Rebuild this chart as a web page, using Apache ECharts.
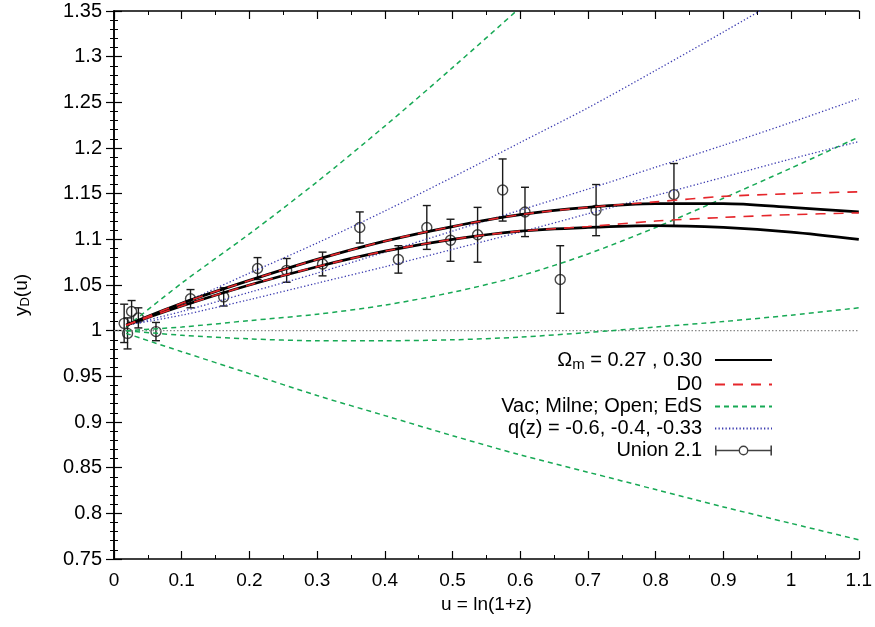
<!DOCTYPE html>
<html>
<head>
    <meta charset="utf-8">
    <title>y_D(u)</title>
    <script src="https://cdn.jsdelivr.net/npm/echarts@6.0.0/dist/echarts.min.js"></script>
</head>
<body style="margin:0;background:#fff;">
    <div id="main" style="width: 875px;height:627px;"></div>
    <script type="text/javascript">
        var uGrid = [0.018, 0.1, 0.2, 0.3, 0.4, 0.5, 0.6, 0.7, 0.8, 0.9, 1.0, 1.1];

        // Omega_m = 0.27 (upper) and 0.30 (lower)
        var om27 = [1.006, 1.030, 1.055, 1.078, 1.098, 1.114, 1.127, 1.135, 1.139, 1.139, 1.135, 1.130];
        var om30 = [1.006, 1.027, 1.050, 1.070, 1.087, 1.100, 1.109, 1.113, 1.115, 1.113, 1.108, 1.100];
        // D0
        var d0a = [1.006, 1.030, 1.055, 1.078, 1.098, 1.114, 1.127, 1.135, 1.141, 1.147, 1.150, 1.152];
        var d0b = [1.006, 1.027, 1.050, 1.070, 1.087, 1.100, 1.109, 1.114, 1.120, 1.124, 1.127, 1.129];
        // Vac; Milne; Open; EdS
        var vac = [1.004, 1.052, 1.106, 1.163, 1.224, 1.288, 1.354, 1.424];
        var milne = [1.000, 1.004, 1.011, 1.018, 1.028, 1.042, 1.060, 1.084, 1.113, 1.145, 1.178, 1.212];
        var open = [1.000, 0.995, 0.991, 0.989, 0.989, 0.990, 0.993, 0.998, 1.004, 1.010, 1.017, 1.025];
        var eds = [0.997, 0.977, 0.953, 0.929, 0.907, 0.885, 0.864, 0.845, 0.826, 0.807, 0.789, 0.771];
        // q(z) = -0.6, -0.4, -0.33
        var q06 = [1.006, 1.030, 1.063, 1.096, 1.131, 1.168, 1.206, 1.244, 1.285, 1.327, 1.370, 1.415];
        var q04 = [1.006, 1.021, 1.042, 1.063, 1.086, 1.109, 1.132, 1.155, 1.179, 1.203, 1.228, 1.254];
        var q033 = [1.006, 1.017, 1.034, 1.052, 1.070, 1.089, 1.108, 1.128, 1.148, 1.168, 1.188, 1.207];

        // Union 2.1 binned points
        var unionU = [0.015, 0.020, 0.026, 0.036, 0.062, 0.113, 0.162, 0.212, 0.255, 0.308, 0.363, 0.420, 0.462, 0.497, 0.537, 0.574, 0.607, 0.659, 0.712, 0.827];
        var unionY = [1.008, 0.997, 1.021, 1.014, 0.999, 1.035, 1.037, 1.068, 1.066, 1.073, 1.113, 1.078, 1.113, 1.099, 1.105, 1.154, 1.130, 1.056, 1.132, 1.149];
        var unionErr = [0.021, 0.017, 0.012, 0.011, 0.010, 0.010, 0.010, 0.012, 0.013, 0.013, 0.017, 0.015, 0.024, 0.023, 0.030, 0.034, 0.027, 0.037, 0.028, 0.034];

        var FONT = 'Liberation Sans, Arial, sans-serif';

        function pairs(ys) {
            var out = [];
            for (var i = 0; i < ys.length; i++) out.push([uGrid[i], ys[i]]);
            return out;
        }

        function curve(name, ys, color, width, dash) {
            return {
                name: name, type: 'line', data: pairs(ys), smooth: 0.3,
                symbol: 'none', silent: true, clip: true,
                itemStyle: { color: color },
                lineStyle: { color: color, width: width, type: dash }
            };
        }

        var errData = [], ptData = [];
        for (var i = 0; i < unionU.length; i++) {
            errData.push([unionU[i], unionY[i], unionY[i] - unionErr[i], unionY[i] + unionErr[i]]);
            ptData.push([unionU[i], unionY[i]]);
        }

        var GREEN = '#17a955', BLUE = '#3b3bb0', RED = '#e5262b';
        var OM = 'Omega';
        var noDot = { opacity: 0 };

        // error bar with circle, drawn in a 57x10 box
        var unionIcon = 'path://M0 0H1.6V10H0Z M55.4 0H57V10H55.4Z M0 4.2H24H24V5.8H0Z M33 4.2H57V5.8H33Z ' +
            'M23.6 5A4.9 4.9 0 1 1 33.4 5A4.9 4.9 0 1 1 23.6 5Z M25 5A3.5 3.5 0 1 0 32 5A3.5 3.5 0 1 0 25 5Z';

        var myChart = echarts.init(document.getElementById('main'), null, { renderer: 'canvas' });

        var option = {
            backgroundColor: '#fff',
            animation: false,
            textStyle: { fontFamily: FONT },
            grid: { left: 114, right: 16, top: 11, bottom: 68 },
            legend: {
                orient: 'vertical', right: 97, top: 345, align: 'right',
                itemWidth: 57, itemHeight: 10, itemGap: 2,
                selectedMode: false,
                textStyle: {
                    fontFamily: FONT, fontSize: 20, color: '#000', padding: [0, 8, 0, 0],
                    rich: {
                        t: { fontFamily: FONT, fontSize: 20, color: '#000' },
                        s: { fontFamily: FONT, fontSize: 15, color: '#000', padding: [10, 0, 0, 0] }
                    }
                },
                formatter: function (name) {
                    if (name === OM) return '{t|Ω}{s|m}{t| = 0.27 , 0.30}';
                    return name;
                },
                data: [
                    { name: OM, itemStyle: noDot },
                    { name: 'D0', itemStyle: noDot },
                    { name: 'Vac; Milne; Open; EdS', itemStyle: noDot },
                    { name: 'q(z) = -0.6, -0.4, -0.33', itemStyle: noDot },
                    { name: 'Union 2.1', icon: unionIcon, itemStyle: { color: '#111', borderWidth: 0 } }
                ]
            },
            xAxis: [{
                type: 'value', min: 0, max: 1.1, interval: 0.1,
                name: 'u = ln(1+z)', nameLocation: 'middle', nameGap: 36,
                nameTextStyle: { fontFamily: FONT, fontSize: 19, color: '#000' },
                axisLine: { lineStyle: { color: '#000', width: 1.5 } },
                axisTick: { inside: true, length: 8, lineStyle: { color: '#000', width: 1.2 } },
                minorTick: { show: true, splitNumber: 2, length: 4, lineStyle: { color: '#000', width: 1 } },
                axisLabel: { fontFamily: FONT, fontSize: 19, color: '#000', margin: 12 },
                splitLine: { show: false }
            }, {
                type: 'value', min: 0, max: 1.1, interval: 0.1, position: 'top',
                axisLine: { lineStyle: { color: '#000', width: 1.5 } },
                axisTick: { inside: true, length: 8, lineStyle: { color: '#000', width: 1.2 } },
                minorTick: { show: true, splitNumber: 2, length: 4, lineStyle: { color: '#000', width: 1 } },
                axisLabel: { show: false },
                splitLine: { show: false }
            }],
            yAxis: [{
                type: 'value', min: 0.75, max: 1.35, interval: 0.05,
                name: '{t|y}{s|D}{t|(u)}', nameLocation: 'middle', nameGap: 82, nameRotate: 90,
                nameTextStyle: {
                    fontFamily: FONT, fontSize: 19, color: '#000', padding: [0, 20, 0, 0],
                    rich: {
                        t: { fontFamily: FONT, fontSize: 19, color: '#000' },
                        s: { fontFamily: FONT, fontSize: 13, color: '#000', padding: [8, 0, 0, 0] }
                    }
                },
                axisLine: { lineStyle: { color: '#000', width: 1.5 } },
                axisTick: { inside: true, length: 8, lineStyle: { color: '#000', width: 1.2 } },
                minorTick: { show: true, splitNumber: 5, length: 4, lineStyle: { color: '#000', width: 1 } },
                axisLabel: { fontFamily: FONT, fontSize: 20, color: '#000', margin: 12 },
                splitLine: { show: false }
            }, {
                type: 'value', min: 0.75, max: 1.35, interval: 0.05, position: 'right',
                axisLine: { lineStyle: { color: '#000', width: 1.5 } },
                axisTick: { inside: true, length: 8, lineStyle: { color: '#000', width: 1.2 } },
                minorTick: { show: true, splitNumber: 5, length: 4, lineStyle: { color: '#000', width: 1 } },
                axisLabel: { show: false },
                splitLine: { show: false }
            }],
            series: [
                {
                    name: 'ref', type: 'line', data: [[0, 1], [1.1, 1]], symbol: 'none', silent: true,
                    lineStyle: { color: '#888', width: 1.2, type: [1.5, 2] }
                },
                curve('Vac; Milne; Open; EdS', vac, GREEN, 1.5, [5, 4]),
                curve('Vac; Milne; Open; EdS', milne, GREEN, 1.5, [5, 4]),
                curve('Vac; Milne; Open; EdS', open, GREEN, 1.5, [5, 4]),
                curve('Vac; Milne; Open; EdS', eds, GREEN, 1.5, [5, 4]),
                curve('q(z) = -0.6, -0.4, -0.33', q06, BLUE, 1.3, [1.3, 2.2]),
                curve('q(z) = -0.6, -0.4, -0.33', q04, BLUE, 1.3, [1.3, 2.2]),
                curve('q(z) = -0.6, -0.4, -0.33', q033, BLUE, 1.3, [1.3, 2.2]),
                curve(OM, om27, '#000', 2.8, 'solid'),
                curve(OM, om30, '#000', 2.8, 'solid'),
                curve('D0', d0a, RED, 1.6, [10, 8]),
                curve('D0', d0b, RED, 1.6, [10, 8]),
                {
                    name: 'errbars', type: 'custom', data: errData, silent: true, clip: true,
                    renderItem: function (params, api) {
                        var lo = api.coord([api.value(0), api.value(2)]);
                        var hi = api.coord([api.value(0), api.value(3)]);
                        var st = { stroke: '#1a1a1a', lineWidth: 1.4 };
                        return {
                            type: 'group',
                            children: [
                                { type: 'line', shape: { x1: lo[0], y1: lo[1], x2: hi[0], y2: hi[1] }, style: st },
                                { type: 'line', shape: { x1: lo[0] - 4, y1: lo[1], x2: lo[0] + 4, y2: lo[1] }, style: st },
                                { type: 'line', shape: { x1: hi[0] - 4, y1: hi[1], x2: hi[0] + 4, y2: hi[1] }, style: st }
                            ]
                        };
                    }
                },
                {
                    name: 'Union 2.1', type: 'scatter', data: ptData, symbol: 'circle', symbolSize: 10,
                    silent: true,
                    itemStyle: { color: 'rgba(255,255,255,0)', borderColor: '#1a1a1a', borderWidth: 1.4 }
                }
            ]
        };

        myChart.setOption(option);
    </script>
</body>
</html>
